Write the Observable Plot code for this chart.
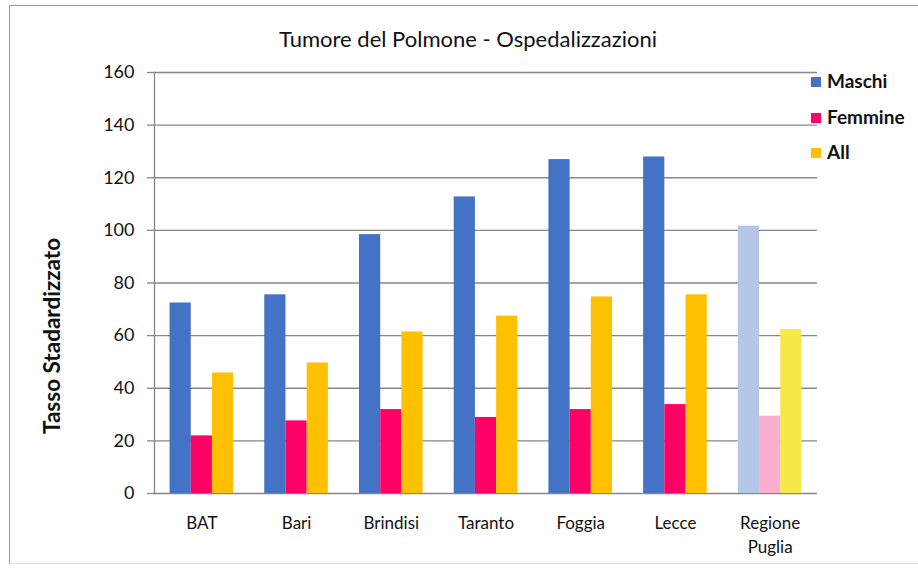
<!DOCTYPE html>
<html>
<head>
<meta charset="utf-8">
<script src="https://cdn.jsdelivr.net/npm/d3@7"></script>
<script src="https://cdn.jsdelivr.net/npm/@observablehq/plot@0.6"></script>
<style>
  html, body { margin: 0; padding: 0; background: #fff; }
  #wrap { position: relative; width: 918px; height: 569px; overflow: hidden; font-family: Lato, "Open Sans", sans-serif; color: #111; }
  #border { position: absolute; left: 9px; top: 5px; width: 930px; height: 559px; border-top: 1.5px solid #9a9a9a; border-left: 1.5px solid #9a9a9a; border-bottom: 1px solid #e2e2e2; box-sizing: border-box; }
  #title { position: absolute; left: 0; top: 0; width: 936px; height: 60px; text-align: center; font-size: 22px; line-height: 22px; padding-top: 28px; box-sizing: border-box; }
  #chart { position: absolute; left: 0; top: 60px; }
  #ylabel { position: absolute; left: 51px; top: 336px; transform: translate(-50%, -50%) rotate(-90deg); white-space: nowrap; font-size: 22.5px; font-weight: 700; }
  #legend { position: absolute; left: 811px; top: 70px; }
  .lg { position: relative; height: 35.5px; font-size: 19px; font-weight: 700; line-height: 22px; white-space: nowrap; }
  .lg span.sw { display: inline-block; width: 10px; height: 10px; margin-right: 6px; vertical-align: 1px; }
</style>
</head>
<body>
<div id="wrap">
  <div id="border"></div>
  <div id="title"></div>
  <div id="chart"></div>
  <div id="ylabel"></div>
  <div id="legend"></div>
</div>
<script>
const titleText = "Tumore del Polmone - Ospedalizzazioni";
const yLabel = "Tasso Stadardizzato";
const categories = ["BAT", "Bari", "Brindisi", "Taranto", "Foggia", "Lecce", "Regione Puglia"];
const series = ["Maschi", "Femmine", "All"];
const maschi  = [72.4, 75.5, 98.4, 112.7, 126.9, 127.9, 101.6];
const femmine = [21.9, 27.6, 31.9, 28.9, 31.9, 33.8, 29.4];
const all     = [45.8, 49.6, 61.4, 67.4, 74.7, 75.5, 62.3];
const yTicks = [0, 20, 40, 60, 80, 100, 120, 140, 160];
const seriesColors = ["#4472C4", "#FF0066", "#FFC000"];
const regionColors = ["#B4C7E7", "#F9AFCF", "#F7E84A"];
const highlightCategory = "Regione Puglia";

const values = [maschi, femmine, all];
const rows = [];
series.forEach((s, i) => categories.forEach((c, j) => rows.push({
  category: c, series: s, si: i, value: values[i][j],
  color: c === highlightCategory ? regionColors[i] : seriesColors[i]
})));

document.getElementById("title").textContent = titleText;
document.getElementById("ylabel").textContent = yLabel;
const legend = document.getElementById("legend");
series.forEach((s, i) => {
  const d = document.createElement("div");
  d.className = "lg";
  d.innerHTML = `<span class="sw" style="background:${seriesColors[i]}"></span>${s}`;
  legend.appendChild(d);
});

const width = 918, height = 509, marginLeft = 154, marginRight = 101;
const step = (width - marginLeft - marginRight) / categories.length;
const barW = 21.2;
const outer = (step - barW * series.length) / 2;

const grid = "#878787";
const chart = Plot.plot({
  width, height,
  marginTop: 12, marginBottom: 76, marginLeft, marginRight,
  style: { fontFamily: "Lato, 'Open Sans', sans-serif", color: "#111", background: "transparent" },
  x: { domain: categories, padding: 0, round: false, axis: null },
  y: { domain: [0, 160], axis: null },
  marks: [
    Plot.gridY(yTicks, { stroke: grid, strokeOpacity: 1, strokeWidth: 1.3 }),
    ...series.map((s, i) => Plot.barY(rows.filter(r => r.si === i), {
      x: "category", y: "value", fill: "color",
      insetLeft: outer + barW * i,
      insetRight: step - outer - barW * (i + 1)
    })),
    Plot.frame({ anchor: "left", stroke: grid, strokeWidth: 1.3 }),
    Plot.axisY({ ticks: yTicks, tickSize: 7, tickPadding: 13, fontSize: 18, stroke: grid, strokeWidth: 1.3, label: null }),
    Plot.axisX({ tickSize: 0, tickPadding: 19, fontSize: 17, lineHeight: 1.4, label: null,
      tickFormat: d => d.replace(" ", "\n") })
  ]
});
document.getElementById("chart").appendChild(chart);
</script>
</body>
</html>
